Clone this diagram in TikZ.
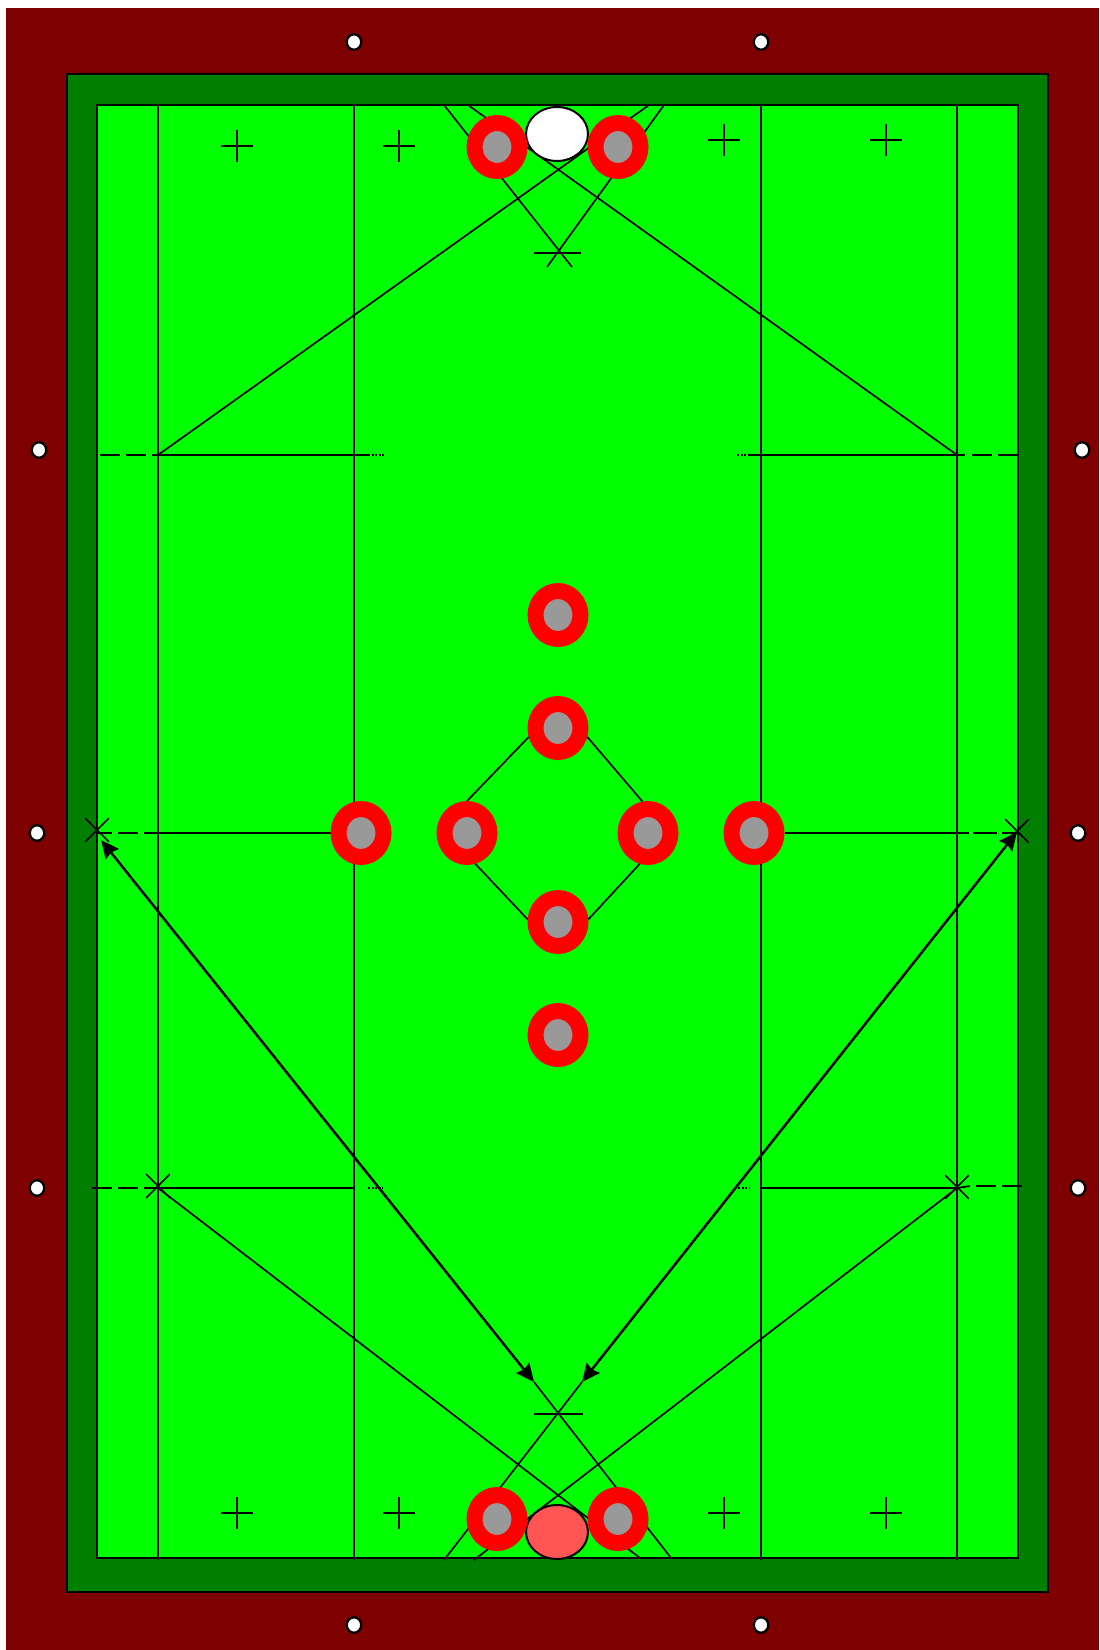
\documentclass[tikz,border=0pt]{standalone}
\usetikzlibrary{arrows.meta,positioning,backgrounds,shapes.geometric,shapes.misc}
\definecolor{railred}{HTML}{7F0000}
\definecolor{cushion}{HTML}{007F00}
\definecolor{cloth}{HTML}{00FF00}
\definecolor{pinred}{HTML}{FF0000}
\definecolor{pingray}{HTML}{999999}
\definecolor{redball}{HTML}{FF5555}

\begin{document}
\begin{tikzpicture}[
    x=0.02cm, y=-0.02cm,
    frame/.style={draw=black, line width=0.34mm},
    pin/.style={ellipse, draw=pinred, fill=pingray, line width=3.2mm, inner sep=0pt, minimum width=0.9cm, minimum height=0.96cm},
    ball/.style={ellipse, draw=black, line width=0.4mm, inner sep=0pt, minimum width=1.24cm, minimum height=1.08cm},
    diamond/.style={ellipse, draw=black, fill=white, line width=0.46mm, inner sep=0pt, minimum width=0.29cm, minimum height=0.31cm},
    xmark/.style={cross out, draw=black, line width=0.32mm, inner sep=0pt, minimum size=0.44cm},
    pmark/.style={xmark, rotate=45, minimum size=0.43cm},
    line/.style={draw=black, line width=0.34mm},
    gap/.style={line, dash pattern=on 4mm off 1.2mm},
    tail/.style={draw=black, line width=0.24mm, dash pattern=on 0.4mm off 0.3mm},
    shot/.style={{Stealth[length=3.6mm, width=3.3mm, inset=0.4mm]}-{Stealth[length=3.6mm, width=3.3mm, inset=0.4mm]}, draw=black, line width=0.5mm}
]
\useasboundingbox (0,0) rectangle (1099,1650);

\node[ball, fill=white] (whiteball) at (557,134) {};
\node[ball, fill=redball] (redball) at (557,1532) {};

\node[pin] (ptl) at (497,147) {};
\node[pin] (ptr) at (618,147) {};
\node[pin] (pbl) at (497,1519) {};
\node[pin] (pbr) at (618,1519) {};
\node[pin] (pc1) at (558,615) {};
\node[pin] (pc2) at (558,728) {};
\node[pin] (pc3) at (558,922) {};
\node[pin] (pc4) at (558,1035) {};
\node[pin] (pm1) at (361,833) {};
\node[pin] (pm2) at (467,833) {};
\node[pin] (pm3) at (648,833) {};
\node[pin] (pm4) at (754,833) {};

\node[diamond] (dt1) at (354,42) {};
\node[diamond] (dt2) at (761,42) {};
\node[diamond] (db1) at (354,1625) {};
\node[diamond] (db2) at (761,1625) {};
\node[diamond] (dl1) at (39,450) {};
\node[diamond] (dl2) at (37,833) {};
\node[diamond] (dl3) at (37,1188) {};
\node[diamond] (dr1) at (1082,450) {};
\node[diamond] (dr2) at (1078,833) {};
\node[diamond] (dr3) at (1078,1188) {};

\node[pmark] (m1) at (237,146) {};
\node[pmark] (m2) at (399,146) {};
\node[pmark] (m3) at (724,140) {};
\node[pmark] (m4) at (886,140) {};
\node[pmark] (m5) at (237,1513) {};
\node[pmark] (m6) at (399,1513) {};
\node[pmark] (m7) at (724,1513) {};
\node[pmark] (m8) at (886,1513) {};

\node[xmark] (xl) at (97,830) {};
\node[xmark] (xr) at (1017,831) {};
\node[xmark] (xbl) at (158,1186) {};
\node[xmark] (xbr) at (957,1187) {};

\coordinate (v1a) at (158,105);
\coordinate (v1b) at (158,1560);
\coordinate (v2a) at (354,105);
\coordinate (v2b) at (354,1560);
\coordinate (v3a) at (761,105);
\coordinate (v3b) at (761,1560);
\coordinate (v4a) at (957,105);
\coordinate (v4b) at (957,1560);

\coordinate (tl1) at (444,105);
\coordinate (tl2) at (468,105);
\coordinate (tr1) at (664,105);
\coordinate (tr2) at (649,105);
\coordinate (txl) at (534,253);
\coordinate (txr) at (581,253);
\coordinate (tfl) at (547,267);
\coordinate (tfr) at (572,267);

\coordinate (bl1) at (444,1560);
\coordinate (bl2) at (474,1560);
\coordinate (br1) at (671,1558);
\coordinate (br2) at (640,1558);
\coordinate (bxl) at (534,1414);
\coordinate (bxr) at (583,1414);
\coordinate (al1) at (101,840);
\coordinate (al2) at (534,1382);
\coordinate (ar1) at (1017,832);
\coordinate (ar2) at (582,1382);

\coordinate (h1a) at (100,455);
\coordinate (h1b) at (158,455);
\coordinate (h1c) at (368,455);
\coordinate (h1d) at (385,455);
\coordinate (h2a) at (737,455);
\coordinate (h2b) at (750,455);
\coordinate (h2c) at (957,455);
\coordinate (h2d) at (965,455);
\coordinate (h2e) at (972,455);
\coordinate (h2f) at (1018,455);
\coordinate (h3a) at (98,833);
\coordinate (h3b) at (145,833);
\coordinate (h3c) at (969,833);
\coordinate (h3d) at (973,833);
\coordinate (h3e) at (1018,833);
\coordinate (h4a) at (92,1188);
\coordinate (h4b) at (158,1188);
\coordinate (h4c) at (368,1188);
\coordinate (h4d) at (383,1188);
\coordinate (h4e) at (354,1188);
\coordinate (h5a) at (738,1188);
\coordinate (h5b) at (749,1188);
\coordinate (h5c) at (761,1188);
\coordinate (h5d) at (957,1188);
\coordinate (h5e) at (970,1186);
\coordinate (h5f) at (976,1186);
\coordinate (h5g) at (1022,1186);

\begin{pgfonlayer}{background}
\fill[railred] (6,8) rectangle (1099,1650);
\draw[frame, fill=cushion] (67,74) rectangle (1048,1592);
\draw[frame, fill=cloth] (97,105) rectangle (1018,1558);

\draw[line] (v1a) -- (v1b);
\draw[line] (v2a) -- (v2b);
\draw[line] (v3a) -- (v3b);
\draw[line] (v4a) -- (v4b);

\draw[line] (tl1) -- (tfr);
\draw[line] (tr1) -- (tfl);
\draw[line] (txl) -- (txr);
\draw[line] (h1b) -- (tr2);
\draw[line] (h2c) -- (tl2);

\draw[line] (bl1) -- (ar2);
\draw[line] (br1) -- (al2);
\draw[line] (bxl) -- (bxr);
\draw[line] (h4b) -- (br2);
\draw[line] (h5d) -- (bl2);

\draw[gap] (h1a) -- (h1b);
\draw[line] (h1b) -- (h1c);
\draw[tail] (h1c) -- (h1d);
\draw[tail] (h2a) -- (h2b);
\draw[line] (h2b) -- (h2d);
\draw[gap] (h2e) -- (h2f);
\draw[gap, dash phase=1.2mm] (h3a) -- (h3b);
\draw[line] (h3b) -- (pm1);
\draw[line] (pm4) -- (h3c);
\draw[line, dash pattern=on 4.8mm off 1mm] (h3d) -- (h3e);
\draw[gap] (h4a) -- (h4b);
\draw[line] (h4b) -- (h4e);
\draw[tail] (h4c) -- (h4d);
\draw[tail] (h5a) -- (h5b);
\draw[line] (h5c) -- (h5d);
\draw[line] (h5d) -- (h5e);
\draw[gap] (h5f) -- (h5g);
\end{pgfonlayer}

\draw[line] (pc2.197) -- (pm2.north);
\draw[line] (pc2.-17) -- (pm3.100);
\draw[line] (pc3.175) -- (pm2.285);
\draw[line] (pc3.5) -- (pm3.255);

\draw[shot] (al1) -- (al2);
\draw[shot] (ar1) -- (ar2);
\end{tikzpicture}
\end{document}
